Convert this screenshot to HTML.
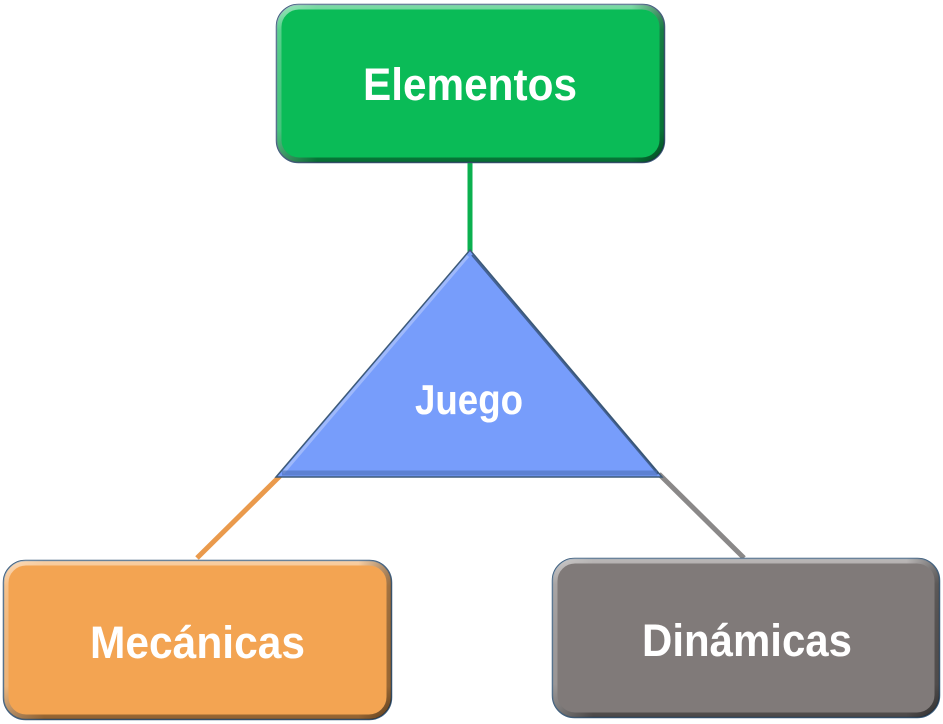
<!DOCTYPE html>
<html><head><meta charset="utf-8"><style>
html,body{margin:0;padding:0;background:#fff;}
svg{display:block;}
text{font-family:"Liberation Sans",Arial,sans-serif;font-weight:bold;fill:#fff;}
</style></head><body>
<svg width="943" height="724" viewBox="0 0 943 724" xmlns="http://www.w3.org/2000/svg">
<defs>
<linearGradient id="bev" x1="0" y1="0" x2="0" y2="1">
<stop offset="0" stop-color="#fff" stop-opacity="0.45"/>
<stop offset="0.15" stop-color="#fff" stop-opacity="0.1"/>
<stop offset="0.8" stop-color="#000" stop-opacity="0.05"/>
<stop offset="1" stop-color="#000" stop-opacity="0.4"/>
</linearGradient>
<linearGradient id="bevx" x1="0" y1="0" x2="1" y2="0">
<stop offset="0" stop-color="#fff" stop-opacity="0.25"/>
<stop offset="0.1" stop-color="#fff" stop-opacity="0"/>
<stop offset="0.92" stop-color="#000" stop-opacity="0"/>
<stop offset="1" stop-color="#000" stop-opacity="0.35"/>
</linearGradient>
</defs>
<!-- connectors -->
<line x1="470" y1="160" x2="470" y2="252" stroke="#0bb04f" stroke-width="5"/>
<line x1="280" y1="476" x2="197" y2="558" stroke="#ea9a4c" stroke-width="5"/>
<line x1="659" y1="474" x2="744" y2="558" stroke="#8a8888" stroke-width="5"/>

<!-- Elementos -->
<rect x="276.5" y="4.5" width="388" height="158" rx="22" fill="#0abb57" stroke="#3f5f7e" stroke-width="1.5"/>
<rect x="279" y="7" width="383" height="153" rx="20" fill="none" stroke="url(#bev)" stroke-width="5"/>
<rect x="279" y="7" width="383" height="153" rx="20" fill="none" stroke="url(#bevx)" stroke-width="5"/>
<text x="470" y="100" text-anchor="middle" font-size="45" textLength="214" lengthAdjust="spacingAndGlyphs">Elementos</text>

<!-- Triangle -->
<polygon points="470,250 276,477 662,477" fill="#779dfb" stroke="#3d5a78" stroke-width="1.5"/>
<line x1="468" y1="256" x2="283" y2="473" stroke="#a9c1fc" stroke-width="3" opacity="0.8"/>
<line x1="472" y1="255" x2="658" y2="474" stroke="#2f4a6a" stroke-width="2" opacity="0.7"/>
<line x1="282" y1="473" x2="657" y2="473" stroke="#4c6fb8" stroke-width="5" opacity="0.6"/>
<text x="469" y="414" text-anchor="middle" font-size="42" textLength="108" lengthAdjust="spacingAndGlyphs">Juego</text>

<!-- Mecánicas -->
<rect x="3.5" y="560.5" width="388" height="159" rx="22" fill="#f3a452" stroke="#3f5f7e" stroke-width="1.5"/>
<rect x="6" y="563" width="383" height="154" rx="20" fill="none" stroke="url(#bev)" stroke-width="5"/>
<rect x="6" y="563" width="383" height="154" rx="20" fill="none" stroke="url(#bevx)" stroke-width="5"/>
<text x="197.5" y="658" text-anchor="middle" font-size="45" textLength="215" lengthAdjust="spacingAndGlyphs">Mecánicas</text>

<!-- Dinámicas -->
<rect x="552.5" y="558.5" width="387" height="159" rx="22" fill="#807a79" stroke="#3f5f7e" stroke-width="1.5"/>
<rect x="555" y="561" width="382" height="154" rx="20" fill="none" stroke="url(#bev)" stroke-width="5"/>
<rect x="555" y="561" width="382" height="154" rx="20" fill="none" stroke="url(#bevx)" stroke-width="5"/>
<text x="747" y="656" text-anchor="middle" font-size="45" textLength="210" lengthAdjust="spacingAndGlyphs">Dinámicas</text>
</svg>
</body></html>
